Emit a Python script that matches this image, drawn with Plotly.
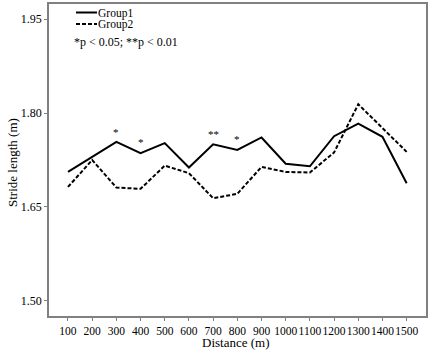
import plotly.graph_objects as go

distance = [100, 200, 300, 400, 500, 600, 700, 800, 900, 1000, 1100, 1200, 1300, 1400, 1500]
group1 = [1.706, 1.730, 1.754, 1.736, 1.752, 1.713, 1.750, 1.741, 1.761, 1.719, 1.715, 1.763, 1.783, 1.762, 1.688]
group2 = [1.682, 1.725, 1.681, 1.679, 1.716, 1.704, 1.664, 1.671, 1.714, 1.706, 1.705, 1.737, 1.814, 1.776, 1.738]
sig_x = [300, 400, 700, 800]
sig_label = ["*", "*", "**", "*"]
sig_y = [1.770, 1.754, 1.766, 1.758]
y_ticks = [1.50, 1.65, 1.80, 1.95]
y_ticklabels = ["1.50", "1.65", "1.80", "1.95"]

FONT = "Liberation Serif"
W, H = 432, 350
L, R, T, B = 49, 6, 4, 34
pw, ph = W - L - R, H - T - B

def px(x):
    return (x - L) / pw

def py(y):
    return (H - B - y) / ph

fig = go.Figure()
fig.add_trace(go.Scatter(x=distance, y=group1, mode="lines", name="Group1",
                         line=dict(color="black", width=2), showlegend=False))
fig.add_trace(go.Scatter(x=distance, y=group2, mode="lines", name="Group2",
                         line=dict(color="black", width=2, dash="4px,2px"), showlegend=False))

for sx, sl, sy in zip(sig_x, sig_label, sig_y):
    fig.add_annotation(x=sx, y=sy, text=sl, showarrow=False, xref="x", yref="y",
                       font=dict(family=FONT, size=11, color="black"), yanchor="middle")

# manual legend
fig.add_shape(type="line", xref="paper", yref="paper", x0=px(76), x1=px(97), y0=py(12.5), y1=py(12.5),
              line=dict(color="black", width=2))
fig.add_shape(type="line", xref="paper", yref="paper", x0=px(76), x1=px(97), y0=py(24), y1=py(24),
              line=dict(color="black", width=2, dash="4px,2px"))
fig.add_annotation(x=px(97), y=py(13), xref="paper", yref="paper", text="Group1", showarrow=False,
                   xanchor="left", yanchor="middle", borderpad=0,
                   font=dict(family=FONT, size=11.5, color="black"))
fig.add_annotation(x=px(97), y=py(24.5), xref="paper", yref="paper", text="Group2", showarrow=False,
                   xanchor="left", yanchor="middle", borderpad=0,
                   font=dict(family=FONT, size=11.5, color="black"))
fig.add_annotation(x=px(72), y=py(42), xref="paper", yref="paper", text="*p < 0.05; **p < 0.01", showarrow=False,
                   xanchor="left", yanchor="middle", font=dict(family=FONT, size=12, color="black"))

# axis titles
fig.add_annotation(x=px(236), y=py(342), xref="paper", yref="paper", text="Distance (m)", showarrow=False,
                   xanchor="center", yanchor="middle", font=dict(family=FONT, size=13, color="black"))
fig.add_annotation(x=px(12), y=py(163), xref="paper", yref="paper", text="Stride length (m)", showarrow=False,
                   textangle=-90, xanchor="center", yanchor="middle", font=dict(family=FONT, size=13, color="black"))

fig.update_layout(
    width=W, height=H,
    margin=dict(l=L, r=R, t=T, b=B, autoexpand=False),
    paper_bgcolor="white", plot_bgcolor="white",
    font=dict(family=FONT, size=12, color="black"),
    showlegend=False,
)
fig.update_xaxes(
    range=[21.5, 1580], tickvals=distance, ticktext=[str(d) for d in distance],
    showgrid=False, zeroline=False, showline=True, linecolor="#808080", linewidth=1.5,
    mirror=True, ticks="outside", ticklen=3, tickcolor="#808080", tickwidth=1,
    tickfont=dict(family=FONT, size=11.5, color="black"), tickangle=0, automargin=False,
)
fig.update_yaxes(
    range=[1.476, 1.974], tickvals=y_ticks, ticktext=y_ticklabels,
    showgrid=False, zeroline=False, showline=True, linecolor="#808080", linewidth=1.5,
    mirror=True, ticks="outside", ticklen=3, tickcolor="#808080", tickwidth=1,
    tickfont=dict(family=FONT, size=12, color="black"), automargin=False,
)

fig.write_html("out.html", config={"displayModeBar": False},
               post_script="document.body.style.margin='0';document.body.style.overflow='hidden';")
